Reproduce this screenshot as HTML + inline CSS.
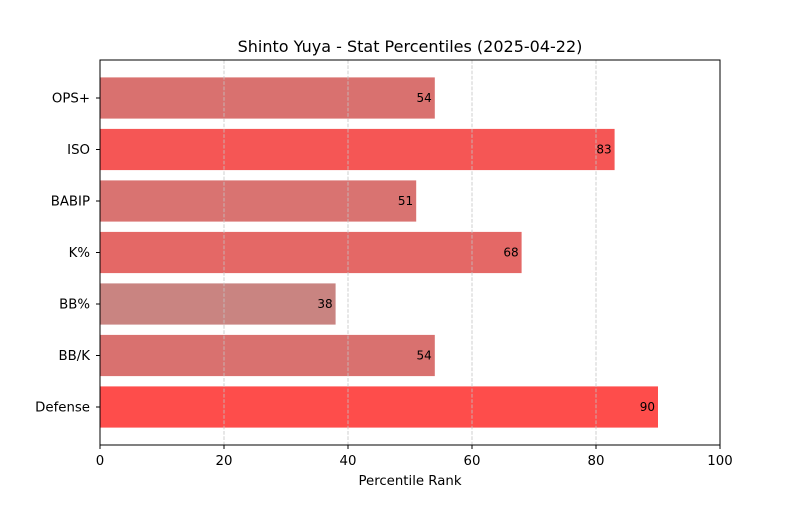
<!DOCTYPE html>
<html><head><meta charset="utf-8"><style>
body{margin:0;background:#fff}
svg{font-family:"DejaVu Sans","Liberation Sans",sans-serif}
</style></head><body>
<svg id="chart" width="800" height="500" viewBox="0 0 800 500">
<rect width="800" height="500" fill="#fff"/>
<text x="410" y="52" text-anchor="middle" font-size="16" fill="#000">Shinto Yuya - Stat Percentiles (2025-04-22)</text>
<g id="bars"></g>
<g id="grid"></g>
<rect x="100" y="60" width="620" height="385" fill="none" stroke="#000" stroke-width="1"/>
<g id="xaxis"></g>
<g id="yaxis"></g>
<text x="410" y="485" text-anchor="middle" font-size="13.3">Percentile Rank</text>
</svg>
<script>
const categories = ["OPS+","ISO","BABIP","K%","BB%","BB/K","Defense"];
const values = [54,83,51,68,38,54,90];
const colors = ["#d9716f","#f55655","#d97371","#e46866","#c98481","#d9716f","#fe4d4b"];
const xTicks = [0,20,40,60,80,100];

const NS="http://www.w3.org/2000/svg";
const x0=100,x1=720,yTop=60,yBot=445;
function xs(v){return x0+(v/100)*(x1-x0);}
const step=51.5;
function yc(i){return 407-step*(categories.length-1-i);}
const bh=0.8*step;
function mk(tag,attrs,parent){const e=document.createElementNS(NS,tag);for(const k in attrs)e.setAttribute(k,attrs[k]);parent.appendChild(e);return e;}
const grid=document.getElementById('grid'),bars=document.getElementById('bars'),xa=document.getElementById('xaxis'),ya=document.getElementById('yaxis');
xTicks.forEach(t=>{
  const X=xs(t);
  if(t>0&&t<100){const g=mk('line',{x1:X,x2:X,y1:yTop,y2:yBot,stroke:'#c4c4c4','stroke-dasharray':'3.7,1.6','stroke-width':0.8},grid);
  
  }
  const tk=mk('line',{x1:X,x2:X,y1:yBot,y2:yBot+4,stroke:'#000'},xa);
  
  
  const tl=mk('text',{x:X,y:yBot+20,'text-anchor':'middle','font-size':13.3},xa);tl.textContent=t;
  
  
});
categories.forEach((c,i)=>{
  const Y=yc(i),v=values[i];
  const r=mk('rect',{x:x0,y:Y-bh/2,width:xs(v)-x0,height:bh,fill:colors[i]},bars);
  
  
  const vl=mk('text',{x:xs(v)-3,y:Y+4,'text-anchor':'end','font-size':12},bars);vl.textContent=v;
  
  
  const tk=mk('line',{x1:x0-4,x2:x0,y1:Y,y2:Y,stroke:'#000'},ya);
  
  
  const tl=mk('text',{x:x0-10,y:Y+4.5,'text-anchor':'end','font-size':13.3},ya);tl.textContent=c;
  
  
});
</script>
</body></html>
